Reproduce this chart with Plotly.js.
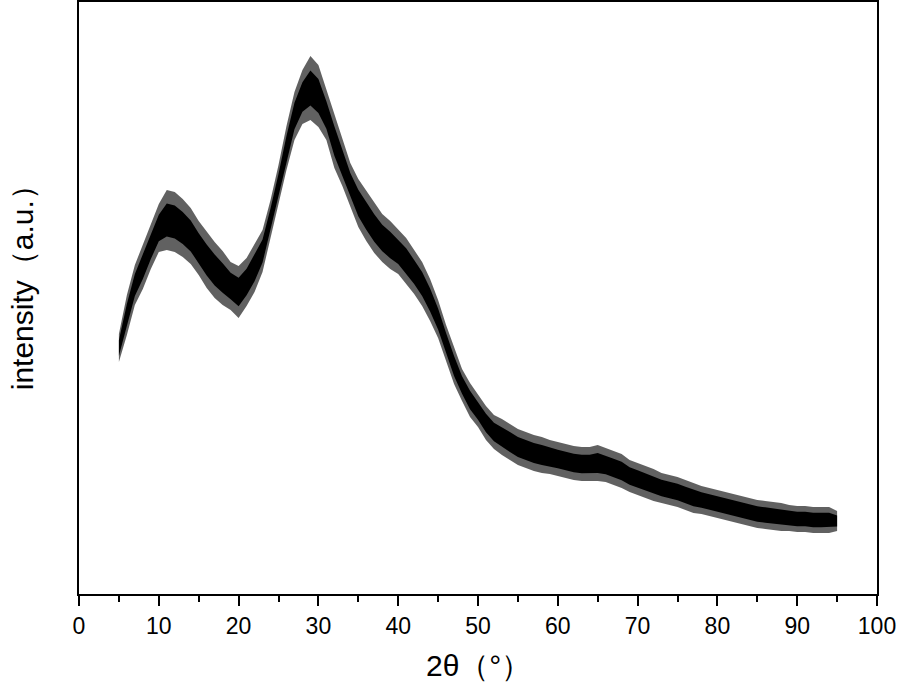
<!DOCTYPE html>
<html>
<head>
<meta charset="utf-8">
<script src="https://cdn.plot.ly/plotly-3.0.1.min.js"></script>
<style>html,body{margin:0;padding:0;background:#fff;}#chart{width:900px;height:688px;}</style>
</head>
<body>
<div id="chart"></div>
<script>
// 2θ positions (degrees)
const twoTheta = [5,6,7,8,9,10,11,12,13,14,15,16,17,18,19,20,21,22,23,24,25,26,27,28,29,30,
  31,32,33,34,35,36,37,38,39,40,41,42,43,44,45,46,47,48,49,50,51,52,53,54,55,56,57,58,59,60,
  61,62,63,64,65,66,67,68,69,70,71,72,73,74,75,76,77,78,79,80,81,82,83,84,85,86,87,88,89,90,
  91,92,93,94,95];
// mean intensity (a.u.)
const intensity = [246,279,309,327,347,366,374,372,366,358,346,334,324,316,308,302,312,326,343,375,409,446,478,497,506,498,
  479,453,431,409,391,378,366,356,349,342,333,322,310,294,275,251,228,209,194,183,171,162,157,152,147,144,141,139,137,135,
  133,131,130,130,131,129,126,123,118,115,112,109,106,104,102,99,96,94,92,90,88,86,84,82,80,79,78,77,76,75,
  75,74,74,74,73];
// noise half-amplitude (a.u.)
const noise = [14,20,20,22,22,24,30,30,29,28,27,28,28,27,24,26,24,24,21,19,20,22,24,27,32,31,
  25,27,23,22,24,25,25,24,24,22,23,22,22,21,19,18,18,16,17,16,17,17,18,18,18,18,18,18,17,17,
  17,17,17,17,18,17,17,17,16,16,16,16,15,15,15,15,15,14,14,14,14,14,14,14,14,14,14,14,13,13,
  13,13,13,13,10];

const outerLo = intensity.map((v,i)=>v-noise[i]);
const outerHi = intensity.map((v,i)=>v+noise[i]);
const coreLo = intensity.map((v,i)=>v-0.55*noise[i]);
const coreHi = intensity.map((v,i)=>v+0.55*noise[i]);

const traces = [
  {x: twoTheta, y: outerLo, mode:'lines', line:{width:0, color:'rgba(0,0,0,0)'}, hoverinfo:'skip', showlegend:false},
  {x: twoTheta, y: outerHi, mode:'lines', fill:'tonexty', fillcolor:'rgba(0,0,0,0.62)', line:{width:0, color:'rgba(0,0,0,0)'}, hoverinfo:'skip', showlegend:false},
  {x: twoTheta, y: coreLo, mode:'lines', line:{width:0, color:'rgba(0,0,0,0)'}, hoverinfo:'skip', showlegend:false},
  {x: twoTheta, y: coreHi, mode:'lines', fill:'tonexty', fillcolor:'#000', line:{width:0, color:'rgba(0,0,0,0)'}, hoverinfo:'skip', showlegend:false}
];

const layout = {
  width: 900, height: 688,
  margin: {l:79, r:23, t:2, b:94},
  paper_bgcolor:'#fff', plot_bgcolor:'#fff',
  font: {family:'Arial, Liberation Sans, sans-serif', color:'#000'},
  showlegend:false,
  xaxis: {
    range:[0,100], dtick:10, tick0:0,
    showline:true, linecolor:'#000', linewidth:2, mirror:true,
    ticks:'outside', ticklen:10, tickwidth:2, tickcolor:'#000',
    minor:{dtick:5, ticks:'outside', ticklen:6, tickwidth:2, tickcolor:'#000', showgrid:false},
    showgrid:false, zeroline:false,
    tickfont:{size:23, family:'Arial, Liberation Sans, sans-serif', color:'#000'}
  },
  yaxis: {
    range:[0,592],
    showline:true, linecolor:'#000', linewidth:2, mirror:true,
    ticks:'', showticklabels:false, showgrid:false, zeroline:false
  },
  annotations: [
    {text:'2θ（°）', xref:'paper', yref:'paper', x:0.5, y:-0.12, xanchor:'center', yanchor:'middle', showarrow:false,
     font:{size:30, family:'Arial, Liberation Sans, sans-serif', color:'#000'}},
    {text:'intensity（a.u.）', xref:'paper', yref:'paper', x:-0.0714, y:0.53, xanchor:'center', yanchor:'middle', textangle:-90, showarrow:false,
     font:{size:30, family:'Arial, Liberation Sans, sans-serif', color:'#000'}}
  ]
};

Plotly.newPlot('chart', traces, layout, {displayModeBar:false, staticPlot:true});
</script>
</body>
</html>
